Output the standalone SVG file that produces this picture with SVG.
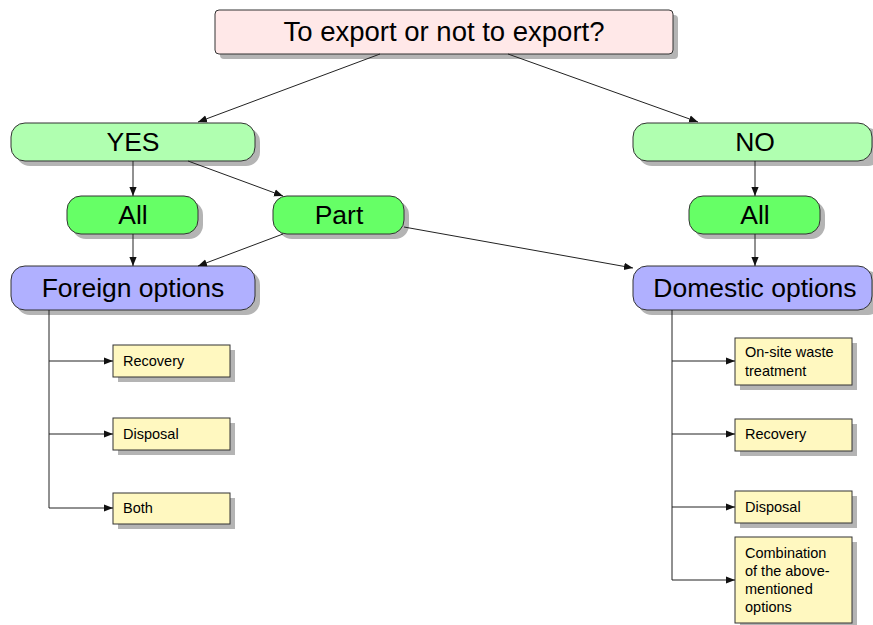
<svg xmlns="http://www.w3.org/2000/svg" width="873" height="625" viewBox="0 0 873 625">
<style>
text{font-family:"Liberation Sans","DejaVu Sans",sans-serif;fill:#000}
.big{font-size:26.5px;text-anchor:middle}
.title{font-size:27.5px;text-anchor:middle}
.small{font-size:14.5px}
.sh{fill:#b4b4b4}
.bx{stroke:#333;stroke-width:1}
.c{stroke:#222;stroke-width:1;fill:none}
</style>
<defs>
<marker id="ah" viewBox="0 0 10 10" refX="10" refY="5" markerWidth="9" markerHeight="9" markerUnits="userSpaceOnUse" orient="auto">
<path d="M0,1 L10,5 L0,9 z" fill="#111"/>
</marker>
</defs>
<rect width="873" height="625" fill="#fff"/>
<g id="root">
<rect class="sh" x="220" y="15" width="458" height="44" rx="4"/>
<rect class="bx" x="215" y="10" width="458" height="44" rx="4" fill="#ffe8e8"/>
<text class="title" x="444" y="41">To export or not to export?</text>
</g>
<g id="yes">
<rect class="sh" x="16" y="128" width="244" height="38" rx="14"/>
<rect class="bx" x="11" y="123" width="244" height="38" rx="14" fill="#b0ffb0"/>
<text class="big" x="133" y="151">YES</text>
</g>
<g id="no">
<rect class="sh" x="638" y="128" width="244" height="38" rx="14"/>
<rect class="bx" x="633" y="123" width="239" height="38" rx="14" fill="#b0ffb0"/>
<text class="big" x="755" y="151">NO</text>
</g>
<g id="all-left">
<rect class="sh" x="72" y="201" width="131" height="38" rx="14"/>
<rect class="bx" x="67" y="196" width="131" height="38" rx="14" fill="#66ff66"/>
<text class="big" x="133" y="224">All</text>
</g>
<g id="part">
<rect class="sh" x="278" y="201" width="131" height="38" rx="14"/>
<rect class="bx" x="273" y="196" width="131" height="38" rx="14" fill="#66ff66"/>
<text class="big" x="339" y="224">Part</text>
</g>
<g id="all-right">
<rect class="sh" x="694" y="201" width="131" height="38" rx="14"/>
<rect class="bx" x="689" y="196" width="131" height="38" rx="14" fill="#66ff66"/>
<text class="big" x="755" y="224">All</text>
</g>
<g id="foreign">
<rect class="sh" x="16" y="271" width="244" height="44" rx="14"/>
<rect class="bx" x="11" y="266" width="244" height="44" rx="14" fill="#b0b0ff"/>
<text class="big" x="133" y="297">Foreign options</text>
</g>
<g id="domestic">
<rect class="sh" x="638" y="271" width="244" height="44" rx="14"/>
<rect class="bx" x="633" y="266" width="239" height="44" rx="14" fill="#b0b0ff"/>
<text class="big" x="755" y="297">Domestic options</text>
</g>
<g id="f-recovery">
<rect class="sh" x="118" y="350" width="117" height="32"/>
<rect class="bx" x="113" y="345" width="117" height="32" fill="#fff8c0"/>
<text class="small" x="123" y="366">Recovery</text>
</g>
<g id="f-disposal">
<rect class="sh" x="118" y="423" width="117" height="32"/>
<rect class="bx" x="113" y="418" width="117" height="32" fill="#fff8c0"/>
<text class="small" x="123" y="439">Disposal</text>
</g>
<g id="f-both">
<rect class="sh" x="118" y="498" width="117" height="31"/>
<rect class="bx" x="113" y="493" width="117" height="31" fill="#fff8c0"/>
<text class="small" x="123" y="513">Both</text>
</g>
<g id="d-onsite">
<rect class="sh" x="740" y="343" width="117" height="47"/>
<rect class="bx" x="735" y="338" width="117" height="47" fill="#fff8c0"/>
<text class="small" x="745" y="357">On-site waste</text>
<text class="small" x="745" y="376">treatment</text>
</g>
<g id="d-recovery">
<rect class="sh" x="740" y="424" width="117" height="32"/>
<rect class="bx" x="735" y="419" width="117" height="32" fill="#fff8c0"/>
<text class="small" x="745" y="439">Recovery</text>
</g>
<g id="d-disposal">
<rect class="sh" x="740" y="496" width="117" height="32"/>
<rect class="bx" x="735" y="491" width="117" height="32" fill="#fff8c0"/>
<text class="small" x="745" y="512">Disposal</text>
</g>
<g id="d-combination">
<rect class="sh" x="740" y="542" width="117" height="86"/>
<rect class="bx" x="735" y="537" width="117" height="86" fill="#fff8c0"/>
<text class="small" x="745" y="558">Combination</text>
<text class="small" x="745" y="576">of the above-</text>
<text class="small" x="745" y="594">mentioned</text>
<text class="small" x="745" y="612">options</text>
</g>
<g id="connectors">
<line class="c" x1="380" y1="54" x2="198" y2="122" marker-end="url(#ah)"/>
<line class="c" x1="508" y1="54" x2="698" y2="122" marker-end="url(#ah)"/>
<line class="c" x1="133" y1="161" x2="133" y2="196" marker-end="url(#ah)"/>
<line class="c" x1="188" y1="161" x2="283" y2="196" marker-end="url(#ah)"/>
<line class="c" x1="133" y1="234" x2="133" y2="266" marker-end="url(#ah)"/>
<line class="c" x1="283" y1="234" x2="198" y2="266" marker-end="url(#ah)"/>
<line class="c" x1="404" y1="227" x2="633" y2="268" marker-end="url(#ah)"/>
<line class="c" x1="755" y1="161" x2="755" y2="196" marker-end="url(#ah)"/>
<line class="c" x1="755" y1="234" x2="755" y2="266" marker-end="url(#ah)"/>
<path class="c" d="M49,310 V508"/>
<line class="c" x1="49" y1="361" x2="113" y2="361" marker-end="url(#ah)"/>
<line class="c" x1="49" y1="434" x2="113" y2="434" marker-end="url(#ah)"/>
<line class="c" x1="49" y1="508" x2="113" y2="508" marker-end="url(#ah)"/>
<path class="c" d="M672,310 V580"/>
<line class="c" x1="672" y1="361" x2="735" y2="361" marker-end="url(#ah)"/>
<line class="c" x1="672" y1="434" x2="735" y2="434" marker-end="url(#ah)"/>
<line class="c" x1="672" y1="507" x2="735" y2="507" marker-end="url(#ah)"/>
<line class="c" x1="672" y1="580" x2="735" y2="580" marker-end="url(#ah)"/>
</g>
</svg>
